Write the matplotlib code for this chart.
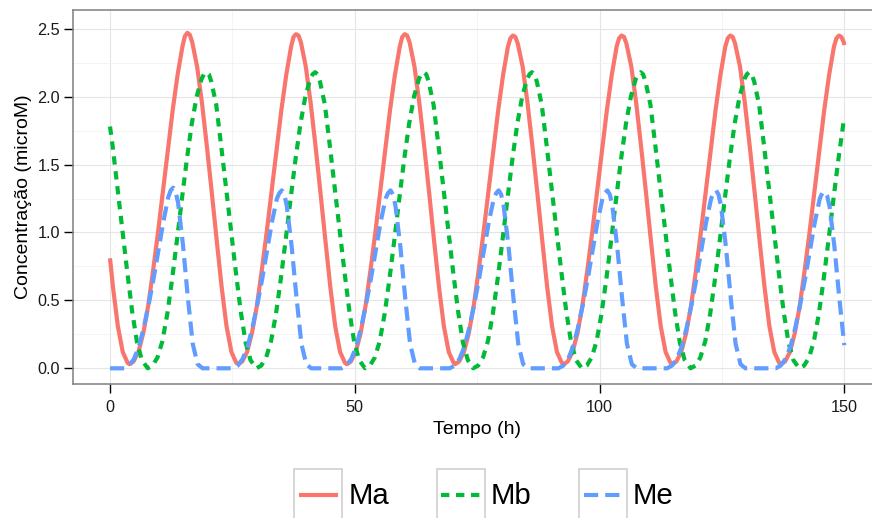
import matplotlib
matplotlib.use('Agg')
import matplotlib.pyplot as plt
from matplotlib.ticker import FixedLocator
from matplotlib.legend_handler import HandlerLine2D
from matplotlib.patches import Rectangle
from matplotlib.lines import Line2D

plt.rcParams['font.family'] = ['Liberation Sans', 'DejaVu Sans']

# ---------------- data ----------------
series_names = ['Ma', 'Mb', 'Me']
series_colors = ['#F8766D', '#00BA38', '#619CFF']

ma_t = [0.0, 0.6, 1.6, 2.6, 3.6,
        4.0, 4.8, 5.8, 6.8, 7.8, 8.8, 9.8, 10.8, 11.8, 12.8, 13.8, 14.8, 15.3, 15.8, 16.3, 16.8, 17.8, 18.8, 19.8, 20.8, 21.8, 22.8, 23.8, 24.8, 25.8,
        26.2, 27.0, 28.0, 29.0, 30.0, 31.0, 32.0, 33.0, 34.0, 35.0, 36.0, 37.0, 37.5, 38.0, 38.5, 39.0, 40.0, 41.0, 42.0, 43.0, 44.0, 45.0, 46.0, 47.0, 48.0,
        48.4, 49.2, 50.2, 51.2, 52.2, 53.2, 54.2, 55.2, 56.2, 57.2, 58.2, 59.2, 59.7, 60.2, 60.7, 61.2, 62.2, 63.2, 64.2, 65.2, 66.2, 67.2, 68.2, 69.2, 70.2,
        70.5, 71.3, 72.3, 73.3, 74.3, 75.3, 76.3, 77.3, 78.3, 79.3, 80.3, 81.3, 81.8, 82.3, 82.8, 83.3, 84.3, 85.3, 86.3, 87.3, 88.3, 89.3, 90.3, 91.3, 92.3,
        92.7, 93.5, 94.5, 95.5, 96.5, 97.5, 98.5, 99.5, 100.5, 101.5, 102.5, 103.5, 104.0, 104.5, 105.0, 105.5, 106.5, 107.5, 108.5, 109.5, 110.5, 111.5, 112.5, 113.5, 114.5,
        114.9, 115.7, 116.7, 117.7, 118.7, 119.7, 120.7, 121.7, 122.7, 123.7, 124.7, 125.7, 126.2, 126.7, 127.2, 127.7, 128.7, 129.7, 130.7, 131.7, 132.7, 133.7, 134.7, 135.7, 136.7,
        137.1, 137.9, 138.9, 139.9, 140.9, 141.9, 142.9, 143.9, 144.9, 145.9, 146.9, 147.9, 148.4, 148.9, 149.4, 149.9, 150.0]
ma_v = [0.81, 0.60, 0.31, 0.12, 0.04,
        0.03, 0.05, 0.12, 0.26, 0.46, 0.72, 1.00, 1.30, 1.60, 1.90, 2.16, 2.37, 2.445, 2.47, 2.455, 2.40, 2.22, 1.95, 1.63, 1.29, 0.94, 0.60, 0.31, 0.12, 0.04,
        0.03, 0.05, 0.12, 0.26, 0.46, 0.72, 1.00, 1.30, 1.60, 1.90, 2.16, 2.37, 2.44, 2.46, 2.45, 2.40, 2.22, 1.95, 1.63, 1.29, 0.94, 0.60, 0.31, 0.12, 0.04,
        0.03, 0.05, 0.12, 0.26, 0.46, 0.72, 1.00, 1.30, 1.60, 1.90, 2.16, 2.37, 2.44, 2.46, 2.45, 2.40, 2.22, 1.95, 1.63, 1.29, 0.94, 0.60, 0.31, 0.12, 0.04,
        0.03, 0.05, 0.12, 0.26, 0.46, 0.72, 1.00, 1.30, 1.60, 1.90, 2.16, 2.37, 2.43, 2.45, 2.44, 2.39, 2.22, 1.95, 1.63, 1.29, 0.94, 0.60, 0.31, 0.12, 0.04,
        0.03, 0.05, 0.12, 0.26, 0.46, 0.72, 1.00, 1.30, 1.60, 1.90, 2.16, 2.37, 2.43, 2.45, 2.44, 2.39, 2.22, 1.95, 1.63, 1.29, 0.94, 0.60, 0.31, 0.12, 0.04,
        0.03, 0.05, 0.12, 0.26, 0.46, 0.72, 1.00, 1.30, 1.60, 1.90, 2.16, 2.37, 2.43, 2.45, 2.44, 2.39, 2.22, 1.95, 1.63, 1.29, 0.94, 0.60, 0.31, 0.12, 0.04,
        0.03, 0.05, 0.12, 0.26, 0.46, 0.72, 1.00, 1.30, 1.60, 1.90, 2.16, 2.37, 2.43, 2.45, 2.44, 2.40, 2.38]

mb_t = [0.0, 0.52, 1.52, 2.52, 3.52, 4.52, 5.52, 6.52, 7.52,
        7.7, 8.7, 9.7, 10.7, 11.7, 12.7, 13.7, 14.7, 15.7, 16.7, 17.7, 18.7, 19.2, 19.7, 20.2, 20.7, 21.7, 22.7, 23.7, 24.7, 25.7, 26.7, 27.7, 28.7, 29.7,
        29.9, 30.9, 31.9, 32.9, 33.9, 34.9, 35.9, 36.9, 37.9, 38.9, 39.9, 40.9, 41.4, 41.9, 42.4, 42.9, 43.9, 44.9, 45.9, 46.9, 47.9, 48.9, 49.9, 50.9, 51.9,
        52.1, 53.1, 54.1, 55.1, 56.1, 57.1, 58.1, 59.1, 60.1, 61.1, 62.1, 63.1, 63.6, 64.1, 64.6, 65.1, 66.1, 67.1, 68.1, 69.1, 70.1, 71.1, 72.1, 73.1, 74.1,
        74.2, 75.2, 76.2, 77.2, 78.2, 79.2, 80.2, 81.2, 82.2, 83.2, 84.2, 85.2, 85.7, 86.2, 86.7, 87.2, 88.2, 89.2, 90.2, 91.2, 92.2, 93.2, 94.2, 95.2, 96.2,
        96.4, 97.4, 98.4, 99.4, 100.4, 101.4, 102.4, 103.4, 104.4, 105.4, 106.4, 107.4, 107.9, 108.4, 108.9, 109.4, 110.4, 111.4, 112.4, 113.4, 114.4, 115.4, 116.4, 117.4, 118.4,
        118.6, 119.6, 120.6, 121.6, 122.6, 123.6, 124.6, 125.6, 126.6, 127.6, 128.6, 129.6, 130.1, 130.6, 131.1, 131.6, 132.6, 133.6, 134.6, 135.6, 136.6, 137.6, 138.6, 139.6, 140.6,
        140.8, 141.8, 142.8, 143.8, 144.8, 145.8, 146.8, 147.8, 148.8, 149.8, 150.0]
mb_v = [1.78, 1.64, 1.33, 1.02, 0.71, 0.42, 0.19, 0.06, 0.01,
        0.00, 0.02, 0.08, 0.20, 0.40, 0.66, 0.95, 1.25, 1.54, 1.80, 2.00, 2.13, 2.165, 2.18, 2.165, 2.11, 1.94, 1.64, 1.33, 1.02, 0.71, 0.42, 0.19, 0.06, 0.01,
        0.00, 0.02, 0.08, 0.20, 0.40, 0.66, 0.95, 1.25, 1.54, 1.80, 2.00, 2.13, 2.165, 2.18, 2.165, 2.11, 1.94, 1.64, 1.33, 1.02, 0.71, 0.42, 0.19, 0.06, 0.01,
        0.00, 0.02, 0.08, 0.20, 0.40, 0.66, 0.95, 1.25, 1.54, 1.80, 2.00, 2.13, 2.165, 2.18, 2.165, 2.11, 1.94, 1.64, 1.33, 1.02, 0.71, 0.42, 0.19, 0.06, 0.01,
        0.00, 0.02, 0.08, 0.20, 0.40, 0.66, 0.95, 1.25, 1.54, 1.80, 2.00, 2.13, 2.165, 2.18, 2.165, 2.11, 1.94, 1.64, 1.33, 1.02, 0.71, 0.42, 0.19, 0.06, 0.01,
        0.00, 0.02, 0.08, 0.20, 0.40, 0.66, 0.95, 1.25, 1.54, 1.80, 2.00, 2.13, 2.165, 2.18, 2.165, 2.11, 1.94, 1.64, 1.33, 1.02, 0.71, 0.42, 0.19, 0.06, 0.01,
        0.00, 0.02, 0.08, 0.20, 0.40, 0.66, 0.95, 1.25, 1.54, 1.80, 2.00, 2.13, 2.165, 2.18, 2.165, 2.11, 1.94, 1.64, 1.33, 1.02, 0.71, 0.42, 0.19, 0.06, 0.01,
        0.00, 0.02, 0.08, 0.20, 0.40, 0.66, 0.95, 1.25, 1.54, 1.80, 1.84]

me_t = [0.0,
        2.9, 3.9, 4.9, 5.9, 6.9, 7.9, 8.9, 9.9, 10.9, 11.9, 12.4, 12.9, 13.4, 13.9, 14.9, 15.9, 16.9, 17.9, 18.9,
        25.1, 26.1, 27.1, 28.1, 29.1, 30.1, 31.1, 32.1, 33.1, 34.1, 34.6, 35.1, 35.6, 36.1, 37.1, 38.1, 39.1, 40.1, 41.1,
        47.3, 48.3, 49.3, 50.3, 51.3, 52.3, 53.3, 54.3, 55.3, 56.3, 56.8, 57.3, 57.8, 58.3, 59.3, 60.3, 61.3, 62.3, 63.3,
        69.4, 70.4, 71.4, 72.4, 73.4, 74.4, 75.4, 76.4, 77.4, 78.4, 78.9, 79.4, 79.9, 80.4, 81.4, 82.4, 83.4, 84.4, 85.4,
        91.6, 92.6, 93.6, 94.6, 95.6, 96.6, 97.6, 98.6, 99.6, 100.6, 101.1, 101.6, 102.1, 102.6, 103.6, 104.6, 105.6, 106.6, 107.6,
        113.8, 114.8, 115.8, 116.8, 117.8, 118.8, 119.8, 120.8, 121.8, 122.8, 123.3, 123.8, 124.3, 124.8, 125.8, 126.8, 127.8, 128.8, 129.8,
        136.0, 137.0, 138.0, 139.0, 140.0, 141.0, 142.0, 143.0, 144.0, 145.0, 145.5, 146.0, 146.5, 147.0, 148.0, 149.0, 150.0]
me_v = [0.0,
        0.00, 0.02, 0.07, 0.16, 0.30, 0.47, 0.66, 0.87, 1.08, 1.26, 1.31, 1.33, 1.30, 1.22, 0.91, 0.52, 0.18, 0.03, 0.00,
        0.00, 0.02, 0.07, 0.16, 0.30, 0.47, 0.66, 0.87, 1.08, 1.25, 1.29, 1.31, 1.28, 1.20, 0.90, 0.52, 0.18, 0.03, 0.00,
        0.00, 0.02, 0.07, 0.16, 0.30, 0.47, 0.66, 0.87, 1.08, 1.25, 1.29, 1.31, 1.28, 1.20, 0.90, 0.52, 0.18, 0.03, 0.00,
        0.00, 0.02, 0.07, 0.16, 0.30, 0.47, 0.66, 0.87, 1.08, 1.25, 1.29, 1.31, 1.28, 1.20, 0.90, 0.52, 0.18, 0.03, 0.00,
        0.00, 0.02, 0.07, 0.16, 0.30, 0.47, 0.66, 0.87, 1.08, 1.25, 1.29, 1.31, 1.28, 1.20, 0.90, 0.52, 0.18, 0.03, 0.00,
        0.00, 0.02, 0.07, 0.16, 0.30, 0.47, 0.66, 0.87, 1.08, 1.25, 1.29, 1.31, 1.28, 1.20, 0.90, 0.52, 0.18, 0.03, 0.00,
        0.00, 0.02, 0.07, 0.16, 0.30, 0.47, 0.66, 0.87, 1.08, 1.25, 1.29, 1.30, 1.27, 1.19, 0.89, 0.51, 0.17]

x_ticks = [0, 50, 100, 150]
x_minor = [25, 75, 125]
y_ticks = [0.0, 0.5, 1.0, 1.5, 2.0, 2.5]
y_tick_labels = ['0.0', '0.5', '1.0', '1.5', '2.0', '2.5']
y_minor = [0.25, 0.75, 1.25, 1.75, 2.25]
x_title = 'Tempo (h)'
y_title = 'Concentração (microM)'


# legend key: line inside a grey box (ggplot style)
class BoxedLine(HandlerLine2D):
    def create_artists(self, legend, orig_handle, xdescent, ydescent,
                       width, height, fontsize, trans):
        rect = Rectangle((-xdescent, -ydescent), width, height,
                         facecolor='white', edgecolor='#CCCCCC', lw=1.1,
                         transform=trans)
        m = 0.1 * width
        yc = -ydescent + height / 2.0
        line = Line2D([-xdescent + m, -xdescent + width - m], [yc, yc])
        self.update_prop(line, orig_handle, legend)
        line.set_transform(trans)
        return [rect, line]


W, H = 872, 518
fig = plt.figure(figsize=(W / 100, H / 100), dpi=100)
ax = fig.add_axes([73.3 / W, (H - 384) / H, (881 - 73.3) / W, (384 - 10) / H])

lw = 3.0
ax.plot(ma_t, ma_v, color=series_colors[0], lw=lw, label=series_names[0],
        solid_capstyle='butt', zorder=3)
ax.plot(mb_t, mb_v, color=series_colors[1], lw=lw, label=series_names[1],
        linestyle=(0, (2.0, 1.6)), dash_capstyle='butt', zorder=4)
ax.plot(me_t, me_v, color=series_colors[2], lw=lw, label=series_names[2],
        linestyle=(0, (3.4, 1.7)), dash_capstyle='butt', zorder=5)

ax.set_xlim(-7.5, 157.5)
ax.set_ylim(-0.1156, 2.638)

ax.xaxis.set_major_locator(FixedLocator(x_ticks))
ax.xaxis.set_minor_locator(FixedLocator(x_minor))
ax.yaxis.set_major_locator(FixedLocator(y_ticks))
ax.yaxis.set_minor_locator(FixedLocator(y_minor))
ax.set_xticklabels([str(v) for v in x_ticks])
ax.set_yticklabels(y_tick_labels)

ax.grid(which='major', color='#E5E5E5', lw=0.8, zorder=0)
ax.grid(which='minor', color='#F2F2F2', lw=0.6, zorder=0)
ax.set_axisbelow(True)

for s in ax.spines.values():
    s.set_color('#7F7F7F')
    s.set_linewidth(1.1)

ax.tick_params(which='major', direction='out', length=6.5, width=1.0,
               color='black', labelsize=11.7, labelcolor='#1A1A1A')
ax.tick_params(axis='x', which='major', pad=5)
ax.tick_params(axis='y', which='major', pad=3)
ax.tick_params(which='minor', length=0)

ax.set_xlabel(x_title, fontsize=14, labelpad=4)
ax.set_ylabel(y_title, fontsize=14, labelpad=4)

handles, labels = ax.get_legend_handles_labels()
fig.legend(handles, labels, loc='center', bbox_to_anchor=(484 / W, 1 - 495 / H),
           ncol=3, frameon=False, fontsize=21.2,
           handlelength=1.63, handleheight=2.335, handletextpad=0.2,
           columnspacing=1.62, handler_map={Line2D: BoxedLine()})

fig.savefig('out.png', dpi=100)
